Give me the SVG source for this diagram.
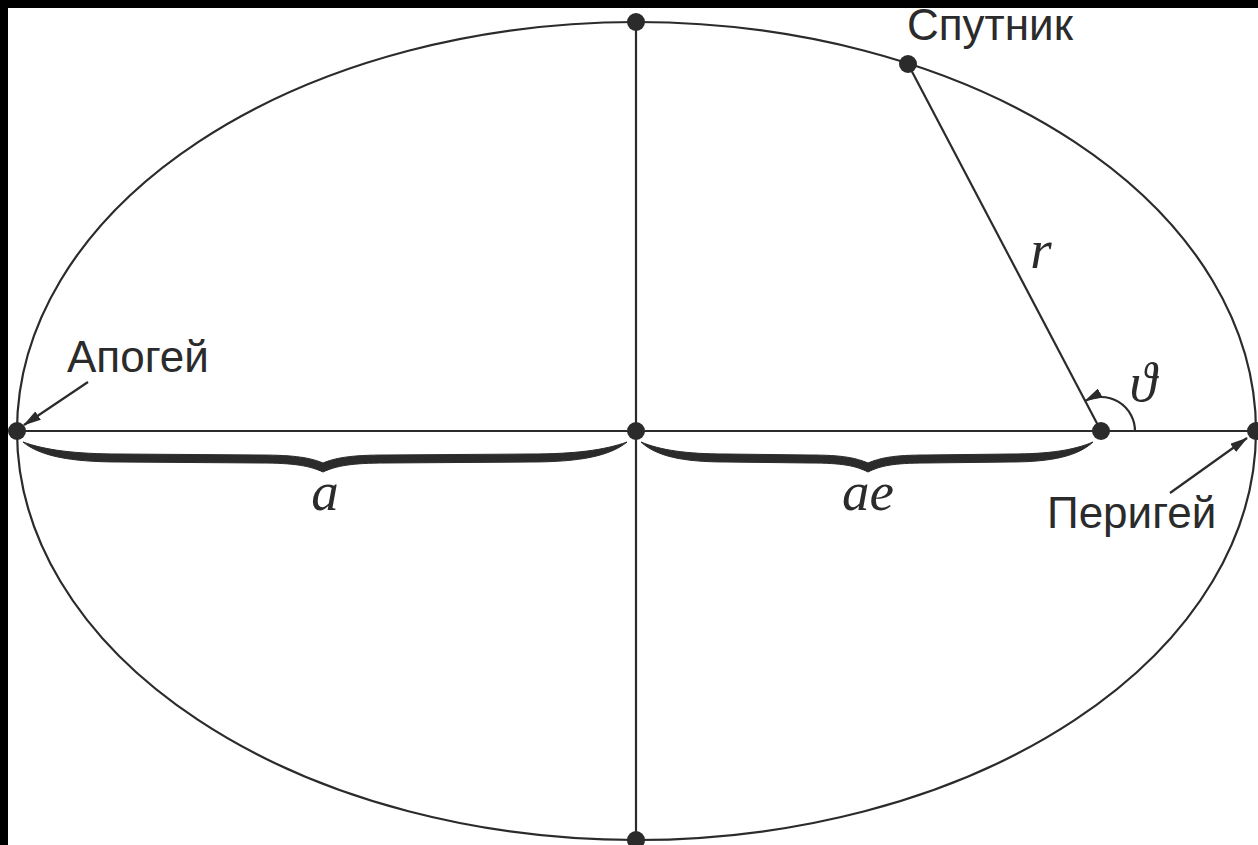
<svg xmlns="http://www.w3.org/2000/svg" width="1258" height="845" viewBox="0 0 1258 845">
<style>
.ln{fill:none;stroke:#2b2b2b;stroke-width:2.2}
.dot{fill:#2b2b2b}
.br{fill:#2b2b2b;stroke:#2b2b2b;stroke-width:1}
.lbl{font-family:"Liberation Sans",Arial,sans-serif;font-size:44px;fill:#2b2b2b}
.m{font-family:"Liberation Serif","DejaVu Serif",serif;font-style:italic;font-size:55px;fill:#2b2b2b}
</style>
<defs>
<marker id="ah" viewBox="0 0 18 10" refX="17" refY="5" markerWidth="18" markerHeight="10" markerUnits="userSpaceOnUse" orient="auto">
<path d="M0,0 L18,5 L0,10 Z" fill="#2b2b2b"/>
</marker>
</defs>
<rect x="0" y="0" width="1258" height="845" fill="#000"/>
<rect x="8" y="8" width="1250" height="837" fill="#fff"/>
<g id="orbit">
<ellipse class="ln" cx="636.5" cy="431" rx="619.5" ry="409"/>
</g>
<g id="connectors">
<line class="ln" x1="17" y1="431" x2="1256" y2="431"/>
<line class="ln" x1="636" y1="22" x2="636" y2="840"/>
<line class="ln" x1="1101" y1="431" x2="908" y2="64"/>
<path class="ln" d="M1135,431 A34,34 0 0 0 1085.2,400.9" marker-end="url(#ah)"/>
<line class="ln" x1="88" y1="382" x2="24" y2="425" marker-end="url(#ah)"/>
<line class="ln" x1="1170" y1="493" x2="1247" y2="438" marker-end="url(#ah)"/>
</g>
<g id="brace-a">
<path class="br" d="M23,442 C40,456 70,462 120,462 L260,463 C295,463 310,466 323,472 C336,466 351,463 386,463 L530,462 C580,462 610,456 627,442 C605,450 575,454 530,454 L386,455 C350,455 335,458 323,463 C311,458 296,455 260,455 L120,454 C75,454 45,450 23,442 Z"/>
<text class="m" x="325" y="510" text-anchor="middle">a</text>
</g>
<g id="brace-ae">
<path class="br" d="M641,442 C656,456 682,462 726,462 L810,463 C843,463 856,466 868,472 C880,466 893,463 926,463 L1010,462 C1052,462 1078,456 1093,442 C1074,450 1050,454 1010,454 L926,455 C893,455 880,458 868,463 C856,458 843,455 810,455 L726,454 C686,454 660,450 641,442 Z"/>
<text class="m" x="868" y="510" text-anchor="middle">ae</text>
</g>
<g id="label-r"><text class="m" x="1041" y="268" text-anchor="middle">r</text></g>
<g id="label-theta"><text class="m" x="1143" y="401" text-anchor="middle">ϑ</text></g>
<g id="apogee">
<circle class="dot" cx="17" cy="431" r="9"/>
<text class="lbl" x="67" y="372">Апогей</text>
</g>
<g id="perigee">
<circle class="dot" cx="1256" cy="431" r="9"/>
<text class="lbl" x="1047" y="528">Перигей</text>
</g>
<g id="satellite">
<circle class="dot" cx="908" cy="64" r="9"/>
<text class="lbl" x="907" y="40">Спутник</text>
</g>
<g id="center"><circle class="dot" cx="636" cy="431" r="9"/></g>
<g id="focus"><circle class="dot" cx="1101" cy="431" r="9"/></g>
<g id="top-vertex"><circle class="dot" cx="636" cy="22" r="9"/></g>
<g id="bottom-vertex"><circle class="dot" cx="636" cy="840" r="9"/></g>
</svg>
